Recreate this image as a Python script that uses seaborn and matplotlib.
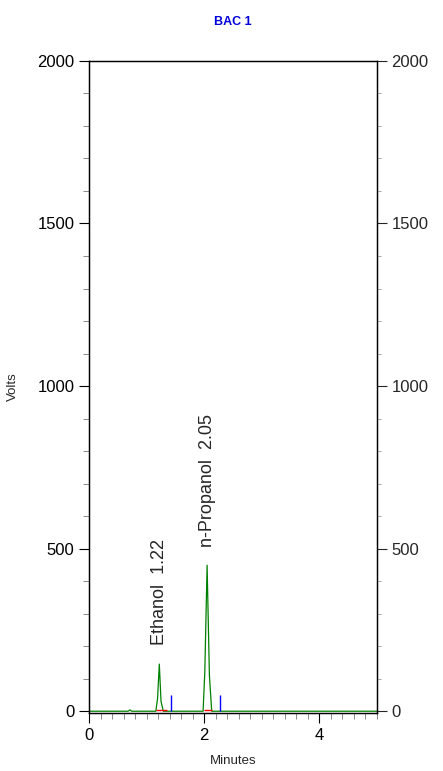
import numpy as np
import pandas as pd
import matplotlib
matplotlib.use("Agg")
import matplotlib.pyplot as plt
import seaborn as sns
from matplotlib.ticker import MultipleLocator

sns.set_style("white")
plt.rcParams['font.family'] = ['Liberation Sans', 'DejaVu Sans']

# chromatogram trace (minutes, volts)
times = [0.0, 0.68, 0.71, 0.74, 1.16, 1.19, 1.22, 1.25, 1.29, 1.98, 2.01, 2.05, 2.09, 2.13, 5.0]
volts = [0.0, 0.0, 4.0, 0.0, 0.0, 40.0, 145.0, 30.0, 0.0, 0.0, 120.0, 449.0, 110.0, 0.0, 0.0]

# peak labels
peak_names = ["Ethanol", "n-Propanol"]
peak_times = [1.22, 2.05]
label_y = [205, 505]

# integration baselines (red) and event marks (blue)
base_start = [1.17, 1.99]
base_end = [1.36, 2.14]
event_times = [1.42, 2.28]
event_height = [50, 50]

df = pd.DataFrame({"Minutes": times, "Volts": volts})

fig = plt.figure(figsize=(4.43, 7.71), dpi=100)
ax = fig.add_axes([0.201, 0.075, 0.650, 0.846])

sns.lineplot(data=df, x="Minutes", y="Volts", ax=ax, color="#008000", linewidth=0.9)
ax.hlines([3, 3], base_start, base_end, colors="#ff0000", linewidth=1.0)
ax.vlines(event_times, 0, event_height, colors="#0000ff", linewidth=1.0)

for name, t, y in zip(peak_names, peak_times, label_y):
    ax.text(t, y, f"{name}  {t:.2f}", rotation=90, ha="center", va="bottom", fontsize=13)

ax.set_xlim(0, 5)
ax.set_ylim(-6, 2000)
ax.xaxis.set_major_locator(MultipleLocator(2))
ax.xaxis.set_minor_locator(MultipleLocator(0.2))
ax.yaxis.set_major_locator(MultipleLocator(500))
ax.yaxis.set_minor_locator(MultipleLocator(100))
ax.tick_params(axis="both", which="major", direction="out", length=7, width=0.8,
               labelsize=12, colors="black", bottom=True, left=True, top=False)
ax.tick_params(axis="both", which="minor", direction="out", length=4, width=0.6,
               color="#777777", bottom=True, left=True, top=False)
for s in ax.spines.values():
    s.set_color("black")
    s.set_linewidth(0.9)

ax.set_xlabel("Minutes", fontsize=9.5, labelpad=9)
ax.set_ylabel("Volts", fontsize=9.5, labelpad=13)
ax.set_title("BAC 1", fontsize=9, color="#0000dd", fontweight="bold", pad=26)

ax2 = ax.twinx()
ax2.set_ylim(ax.get_ylim())
ax2.yaxis.set_major_locator(MultipleLocator(500))
ax2.yaxis.set_minor_locator(MultipleLocator(100))
ax2.tick_params(axis="y", which="major", direction="out", length=7, width=0.8,
                labelsize=12, right=True)
ax2.tick_params(axis="y", which="minor", direction="out", length=3, width=0.6,
                color="#999999", right=True)
ax2.grid(False)
for s in ax2.spines.values():
    s.set_color("black")
    s.set_linewidth(0.9)

fig.savefig("out.png", dpi=100)
